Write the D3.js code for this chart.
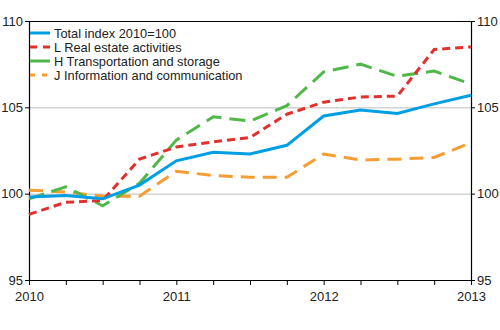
<!DOCTYPE html>
<html>
<head>
<meta charset="utf-8">
<script src="https://cdn.jsdelivr.net/npm/d3@7"></script>
<style>
  body { margin: 0; background: #fff; }
  svg { font-family: "Liberation Sans", Arial, sans-serif; }
</style>
</head>
<body>
<div id="chart"></div>
<script>
// quarters 2010Q1 .. 2013Q1
const quarters = [0, 1, 2, 3, 4, 5, 6, 7, 8, 9, 10, 11, 12]
const total = [99.8, 99.9, 99.7, 100.5, 101.9, 102.4, 102.3, 102.8, 104.5, 104.85, 104.65, 105.2, 105.7]
const realEstate = [98.8, 99.5, 99.6, 102.0, 102.7, 103.0, 103.25, 104.6, 105.3, 105.6, 105.65, 108.35, 108.5]
const transport = [99.7, 100.4, 99.3, 100.6, 103.1, 104.45, 104.2, 105.1, 107.05, 107.5, 106.8, 107.1, 106.35]
const info = [100.2, 100.1, 99.85, 99.85, 101.3, 101.05, 100.95, 100.95, 102.3, 101.95, 102.0, 102.1, 102.95]
const yTicks = [95, 100, 105, 110]
const yearLabels = ["2010", "2011", "2012", "2013"]

const seriesNames = ["Total index 2010=100", "L Real estate activities", "H Transportation and storage", "J Information and communication"]

const width = 500, height = 330
const margin = { top: 21, right: 29, bottom: 50, left: 29 }

const svg = d3.select("#chart").append("svg")
    .attr("width", width)
    .attr("height", height)

const x = d3.scaleLinear()
    .domain([0, 12])
    .range([margin.left, width - margin.right])

const y = d3.scaleLinear()
    .domain([95, 110])
    .range([height - margin.bottom, margin.top])

// gridlines
svg.append("g")
    .selectAll("line")
    .data([100, 105])
    .enter()
    .append("line")
    .attr("x1", x(0))
    .attr("x2", x(12))
    .attr("y1", d => y(d) + 0.5)
    .attr("y2", d => y(d) + 0.5)
    .attr("stroke", "#bdbdbd")
    .attr("stroke-width", 1)

// top frame line
svg.append("line")
    .attr("x1", x(0))
    .attr("x2", x(12))
    .attr("y1", y(110) + 0.5)
    .attr("y2", y(110) + 0.5)
    .attr("stroke", "#000")

const yAxisL = d3.axisLeft(y).tickValues(yTicks).tickSize(4).tickSizeOuter(0).tickPadding(2)
const yAxisR = d3.axisRight(y).tickValues(yTicks).tickSize(4).tickSizeOuter(0).tickPadding(2)
const xAxis = d3.axisBottom(x).tickValues(quarters).tickSize(5).tickSizeOuter(0).tickPadding(7)
    .tickFormat(d => d % 4 == 0 ? yearLabels[d / 4] : "")

function styleAxis(g) {
    g.select(".domain").attr("stroke", "#000").attr("stroke-width", 1.2)
    g.selectAll(".tick line").attr("stroke", "#000")
    g.selectAll("text").attr("fill", "#222").attr("font-size", "13px")
}

svg.append("g")
    .attr("transform", `translate(${x(0)},0)`)
    .call(yAxisL)
    .call(styleAxis)

svg.append("g")
    .attr("transform", `translate(${x(12)},0)`)
    .call(yAxisR)
    .call(styleAxis)

svg.append("g")
    .attr("transform", `translate(0,${y(95)})`)
    .call(xAxis)
    .call(styleAxis)

const series = [
    { name: seriesNames[0], values: total, color: "#009fe3", dash: null },
    { name: seriesNames[1], values: realEstate, color: "#e1302d", dash: "8,5" },
    { name: seriesNames[2], values: transport, color: "#4fb848", dash: "16,8" },
    { name: seriesNames[3], values: info, color: "#f59c33", dash: "14,8" },
]

const line = d3.line()
    .x((d, i) => x(quarters[i]))
    .y(d => y(d))

// draw in back-to-front order so total is on top
const drawOrder = [3, 2, 1, 0]
drawOrder.forEach(k => {
    const s = series[k]
    svg.append("path")
        .datum(s.values)
        .attr("d", line)
        .attr("fill", "none")
        .attr("stroke", s.color)
        .attr("stroke-width", 3)
        .attr("stroke-dasharray", s.dash)
})

// legend
const legend = svg.append("g").attr("transform", "translate(30,33)")
const legendDash = [null, "7,6", null, "5,7"]
series.forEach((s, i) => {
    const row = legend.append("g").attr("transform", `translate(0,${i * 14})`)
    row.append("line")
        .attr("x1", 0).attr("x2", 20)
        .attr("y1", 0).attr("y2", 0)
        .attr("stroke", s.color)
        .attr("stroke-width", 3)
        .attr("stroke-dasharray", legendDash[i])
    row.append("text")
        .attr("x", 24)
        .attr("y", 4.5)
        .attr("font-size", "12.8px")
        .attr("fill", "#222")
        .text(s.name)
})
</script>
</body>
</html>
